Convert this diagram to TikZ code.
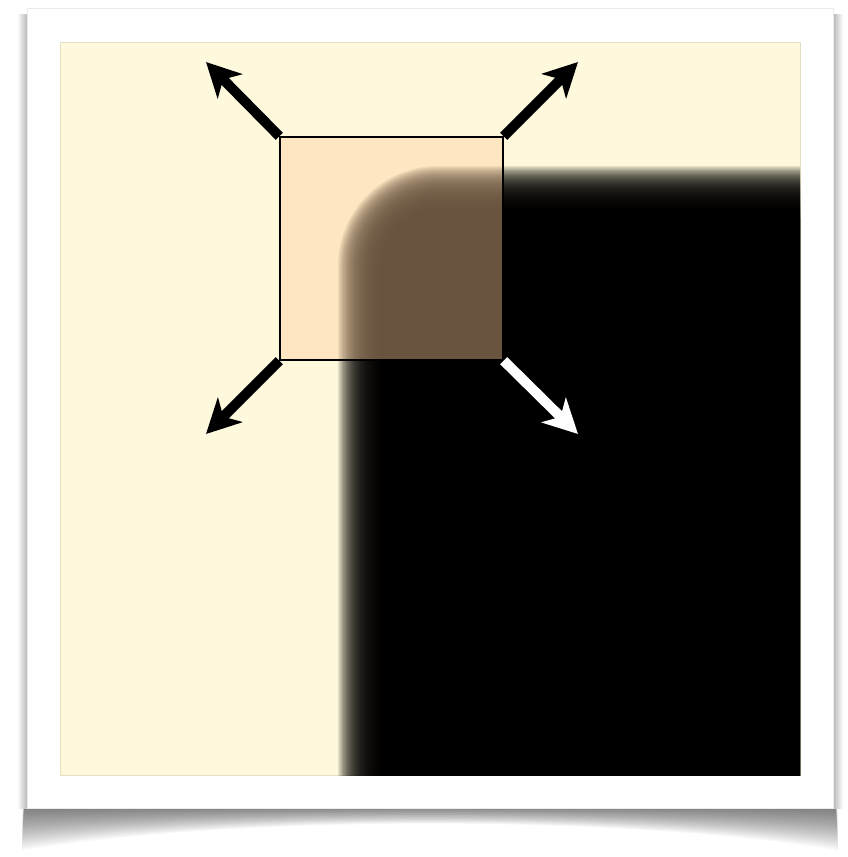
\documentclass[tikz,border=0pt]{standalone}
\usepackage{tikz}
\usetikzlibrary{arrows.meta,positioning}
\definecolor{cream}{RGB}{254,249,221}
\definecolor{peach}{RGB}{253,204,155}
\definecolor{rim}{RGB}{230,224,194}

\begin{document}
\begin{tikzpicture}[x=0.25mm, y=-0.25mm,
    patchbox/.style={draw=black, line width=0.35mm, fill=peach, fill opacity=0.41, minimum size=55.75mm, inner sep=0pt},
    arr/.style={-{Stealth[length=8.5mm, width=8.6mm, inset=2.4mm]}, line width=2.5mm}
]
\useasboundingbox (0,0) rectangle (848,857);

% shadow under the frame
\foreach \d in {2,4,...,44}
  \fill[black, opacity=0.03] (24,806) -- (836,806) -- (838,806+\d) .. controls (620,806+0.2*\d) and (240,806+0.2*\d) .. (22,806+\d) -- cycle;
\shade[left color=white, right color=black!28] (17,14) rectangle (27,808);
\shade[left color=black!28, right color=white] (833,14) rectangle (843,808);

% frame and picture
\filldraw[fill=white, draw=black!8] (27,8) rectangle (833,808);
\filldraw[fill=cream, draw=rim] (60,42) rectangle (800,775);

\begin{scope}
  \clip (60,42) rectangle (800,775);
  \foreach \k [evaluate=\k as \o using 338+1.3*\k, evaluate=\k as \r using 25-0.3*\k] in {0,...,39}
    \fill[black, opacity=0.1, rounded corners=\r mm] (\o,{\o-172}) rectangle (1100,1100);
  \fill[black, rounded corners=12mm] (390,218) rectangle (1100,1100);
\end{scope}

\node[patchbox] (patch) at (391.5,248.5) {};

\coordinate (nw) at (206,62);
\coordinate (ne) at (578,62);
\coordinate (sw) at (206,434);
\coordinate (se) at (578,434);

\draw[arr] (patch.north west) -- (nw);
\draw[arr] (patch.north east) -- (ne);
\draw[arr] (patch.south west) -- (sw);
\draw[arr, white] (patch.south east) -- (se);
\end{tikzpicture}
\end{document}
